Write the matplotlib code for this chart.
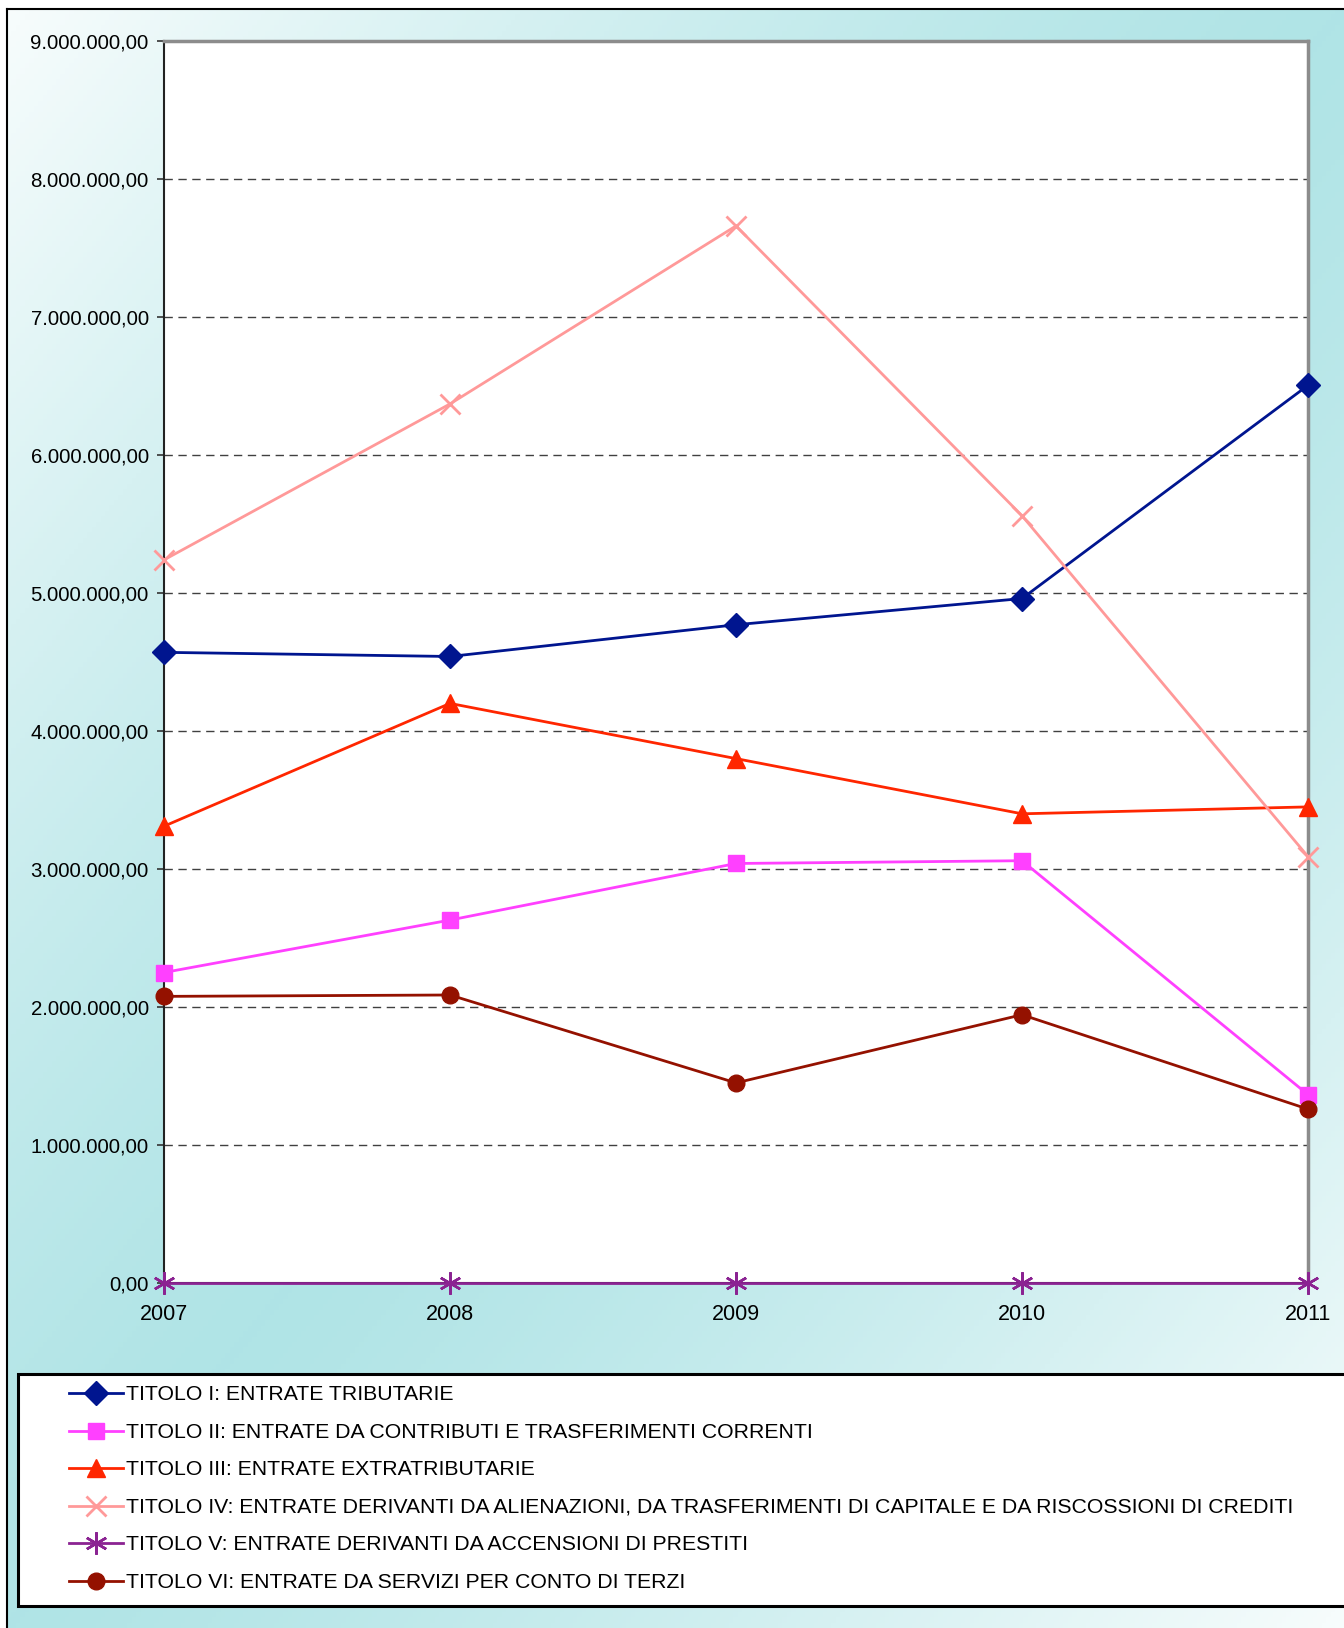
import numpy as np
import matplotlib.pyplot as plt
from matplotlib.patches import Rectangle
from matplotlib.ticker import FuncFormatter, MultipleLocator

plt.rcParams['font.family'] = ['Liberation Sans', 'DejaVu Sans']

anni = [2007, 2008, 2009, 2010, 2011]

titolo_1 = [4570000, 4540000, 4770000, 4960000, 6505000]
titolo_2 = [2250000, 2630000, 3040000, 3060000, 1365000]
titolo_3 = [3310000, 4200000, 3800000, 3400000, 3450000]
titolo_4 = [5240000, 6370000, 7660000, 5560000, 3090000]
titolo_5 = [0, 0, 0, 0, 0]
titolo_6 = [2077000, 2087000, 1450000, 1944000, 1260000]

etichette = [
    "TITOLO I: ENTRATE TRIBUTARIE",
    "TITOLO II: ENTRATE DA CONTRIBUTI E TRASFERIMENTI CORRENTI",
    "TITOLO III: ENTRATE EXTRATRIBUTARIE",
    "TITOLO IV: ENTRATE DERIVANTI DA ALIENAZIONI, DA TRASFERIMENTI DI CAPITALE E DA RISCOSSIONI DI CREDITI",
    "TITOLO V: ENTRATE DERIVANTI DA ACCENSIONI DI PRESTITI",
    "TITOLO VI: ENTRATE DA SERVIZI PER CONTO DI TERZI",
]

W, H = 1344, 1628
fig = plt.figure(figsize=(W / 100, H / 100), dpi=100)

# sfondo sfumato (bianco -> turchese -> bianco in diagonale)
bg = fig.add_axes([0, 0, 1, 1], zorder=-10)
xx, yy = np.meshgrid(np.linspace(0, 1, 300), np.linspace(0, 1, 300))
t = (xx + yy) / 2.0
k = np.clip(np.abs(t - 0.5) * 2, 0, 1) ** 1.3
bianco = np.array([0.97, 0.99, 0.99])
teal = np.array([0.69, 0.894, 0.902])
img = teal[None, None, :] * (1 - k[..., None]) + bianco[None, None, :] * k[..., None]
bg.imshow(img, extent=[7 / W, 1, 0, 1 - 9 / H], aspect='auto', origin='upper')
bg.set_xlim(0, 1)
bg.set_ylim(0, 1)
bg.axis('off')
bg.plot([7 / W, 7 / W], [0, 1 - 9 / H], color='black', lw=1.5)
bg.plot([7 / W, 1], [1 - 9 / H, 1 - 9 / H], color='black', lw=1.5)

ax = fig.add_axes([164 / W, 1 - 1283 / H, (1308 - 164) / W, (1283 - 41) / H])
ax.set_facecolor('white')

serie = [
    (titolo_1, '#00158F', 'D', 12, 1.0),
    (titolo_2, '#FF40FF', 's', 12, 1.0),
    (titolo_3, '#FF2600', '^', 13, 1.0),
    (titolo_4, '#FF9999', 'x', 14, 2.0),
    (titolo_5, '#8B2392', (6, 2, 0), 16, 1.8),
    (titolo_6, '#941100', 'o', 12, 1.0),
]
handles = []
for (valori, col, mk, ms, mew), lab in zip(serie, etichette):
    ln, = ax.plot(anni, valori, color=col, lw=2.0, marker=mk, markersize=ms,
                  markerfacecolor=col, markeredgecolor=col, markeredgewidth=mew,
                  clip_on=False, zorder=5, label=lab)
    handles.append(ln)

ax.set_xlim(2007, 2011)
ax.set_ylim(0, 9000000)
ax.yaxis.set_major_locator(MultipleLocator(1000000))
ax.yaxis.set_major_formatter(FuncFormatter(
    lambda v, p: f"{v:,.2f}".replace(",", "X").replace(".", ",").replace("X", ".")))
ax.set_xticks(anni)
ax.set_xticklabels([str(a) for a in anni])
ax.tick_params(axis='y', labelsize=14.7, length=5, width=1.2, pad=6, color='#333333')
ax.tick_params(axis='x', labelsize=15.5, length=0, pad=15)
ax.grid(axis='y', color='#404040', linestyle=(0, (6, 4)), lw=1.0)
ax.set_axisbelow(True)
for s in ['top', 'right']:
    ax.spines[s].set_color('#8C8C8C')
    ax.spines[s].set_linewidth(2.5)
ax.spines['left'].set_color('#222222')
ax.spines['left'].set_linewidth(1.5)
ax.spines['bottom'].set_color('#222222')
ax.spines['bottom'].set_linewidth(1.5)

# riquadro legenda
fig.patches.append(Rectangle((18 / W, 1 - 1606 / H), 1.0, (1606 - 1374) / H,
                             transform=fig.transFigure, facecolor='white',
                             edgecolor='black', lw=2.2, zorder=1))
leg = fig.legend(handles=handles, loc='upper left',
                 bbox_to_anchor=(60 / W, 1 - 1377 / H), frameon=False,
                 fontsize=15.3, handlelength=2.55, handletextpad=0.15,
                 labelspacing=0.87, borderaxespad=0)

fig.savefig('out.png', dpi=100)
